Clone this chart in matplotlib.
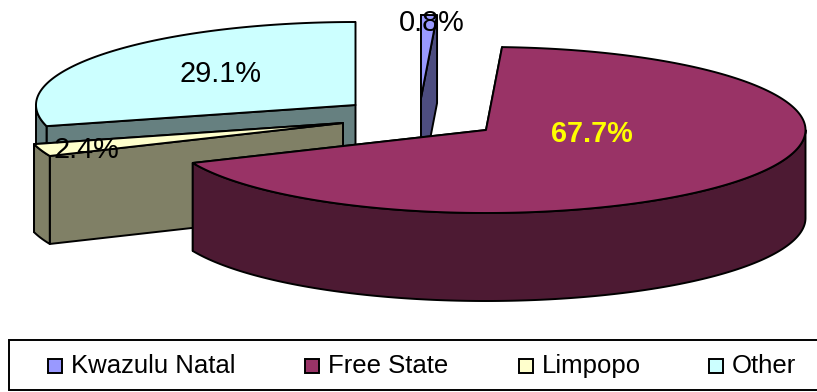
import numpy as np
import matplotlib
matplotlib.use("Agg")
from matplotlib import pyplot as plt
from matplotlib.patches import Polygon, Rectangle

plt.rcParams["font.family"] = ["Liberation Sans", "DejaVu Sans"]

regions = ["Kwazulu Natal", "Free State", "Limpopo", "Other"]
shares = [0.8, 67.7, 2.4, 29.1]
face_colors = ["#9999FF", "#993366", "#FFFFCC", "#CCFFFF"]
side_colors = ["#4D4D80", "#4D1A33", "#808066", "#668080"]

# pie geometry in pixels, y pointing down
RX, RY, DEPTH = 319.5, 83, 88
centres = {"Kwazulu Natal": (421, 98), "Free State": (486, 130), "Limpopo": (343, 123), "Other": (355.5, 105)}
label_pos = {"Kwazulu Natal": (432, 31), "Free State": (592, 142), "Limpopo": (86, 158), "Other": (221, 82)}
legend_x = [48, 305, 519, 709]
LW = 1.4


def rim(centre, a0, a1, drop=0):
    # points on the ellipse, angles in degrees clockwise from 12 o'clock
    a = np.radians(np.linspace(a0, a1, max(2, int(abs(a1 - a0) * 2))))
    return np.column_stack([centre[0] + RX * np.sin(a), centre[1] - RY * np.cos(a) + drop])


def add_poly(ax, pts, color, z):
    ax.add_patch(Polygon(pts, closed=True, facecolor=color, edgecolor="black", linewidth=LW,
                         joinstyle="round", zorder=z))


def draw_slice(ax, name, a0, a1, face, side, z):
    c = np.array(centres[name], dtype=float)
    down = np.array([0, DEPTH])

    # walls from the centre to each rim end, the lower rim end goes in front
    ends = sorted((rim(c, a, a)[0] for a in (a0, a1)), key=lambda p: p[1])
    for p in ends:
        add_poly(ax, [c, p, p + down, c + down], side, z)

    # outer wall, only the part on the near half of the ellipse
    lo, hi = max(a0, 90), min(a1, 270)
    if lo < hi:
        top = rim(c, lo, hi)
        add_poly(ax, np.vstack([top, top[::-1] + down]), side, z + 0.1)

    add_poly(ax, np.vstack([[c], rim(c, a0, a1)]), face, z + 0.2)


fig = plt.figure(figsize=(8.17, 3.92), dpi=100)
ax = fig.add_axes([0, 0, 1, 1])
ax.set_xlim(0, 817)
ax.set_ylim(392, 0)
ax.axis("off")

# slices run clockwise from the top
edges = np.concatenate([[0], np.cumsum(shares)]) * 3.6
order = {"Other": 1, "Kwazulu Natal": 2, "Limpopo": 3, "Free State": 4}
for i, name in enumerate(regions):
    draw_slice(ax, name, edges[i], edges[i + 1], face_colors[i], side_colors[i], order[name])

for name, share in zip(regions, shares):
    x, y = label_pos[name]
    bold = name == "Free State"
    ax.text(x, y, f"{share:.1f}%", ha="center", va="baseline", fontsize=20.8, zorder=10,
            color="#FFFF00" if bold else "black", fontweight="bold" if bold else "normal")

# legend box
ax.add_patch(Rectangle((9, 340), 830, 50, facecolor="white", edgecolor="black", linewidth=LW, zorder=5))
for x, name, color in zip(legend_x, regions, face_colors):
    ax.add_patch(Rectangle((x, 359), 14, 14, facecolor=color, edgecolor="black", linewidth=LW, zorder=6))
    ax.text(x + 23, 373, name, ha="left", va="baseline", fontsize=18.5, zorder=6)

fig.savefig("out.png", dpi=100)
